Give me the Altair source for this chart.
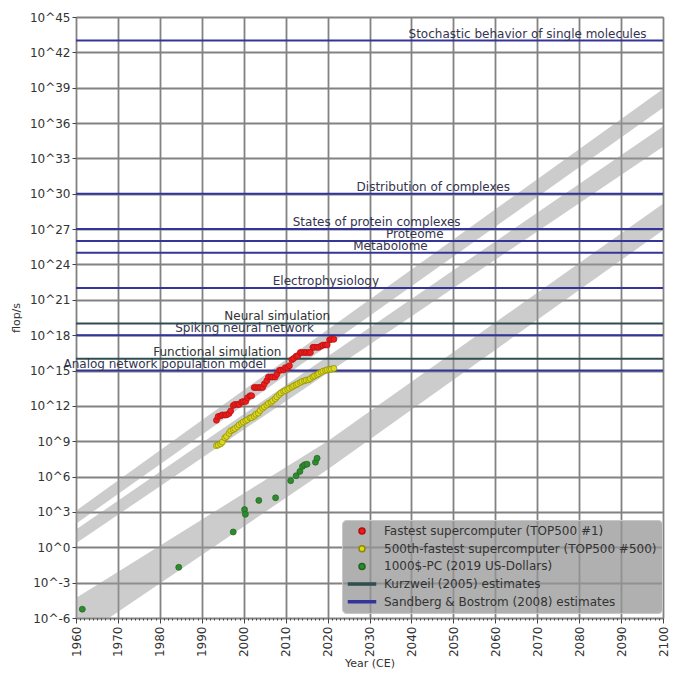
import altair as alt
import pandas as pd

# ---------------- data ----------------
# TOP500 list dates (June / November lists)
top_years = [1993.5, 1993.9, 1994.5, 1994.9, 1995.5, 1995.9, 1996.5, 1996.9, 1997.5, 1997.9,
             1998.5, 1998.9, 1999.5, 1999.9, 2000.5, 2000.9, 2001.5, 2001.9, 2002.5, 2002.9,
             2003.5, 2003.9, 2004.5, 2004.9, 2005.5, 2005.9, 2006.5, 2006.9, 2007.5, 2007.9,
             2008.5, 2008.9, 2009.5, 2009.9, 2010.5, 2010.9, 2011.5, 2011.9, 2012.5, 2012.9,
             2013.5, 2013.9, 2014.5, 2014.9, 2015.5, 2015.9, 2016.5, 2016.9, 2017.5, 2017.9,
             2018.5, 2018.9, 2019.5, 2019.9, 2020.5, 2020.9, 2021.5]
# fastest supercomputer (TOP500 #1), flop/s
top1_flops = [5.97e10, 1.24e11, 1.434e11, 1.70e11, 1.70e11, 1.70e11, 2.204e11, 3.682e11, 1.068e12, 1.338e12,
              1.338e12, 1.338e12, 2.121e12, 2.379e12, 2.379e12, 4.938e12, 7.226e12, 7.226e12, 3.586e13, 3.586e13,
              3.586e13, 3.586e13, 3.586e13, 7.072e13, 1.368e14, 2.806e14, 2.806e14, 2.806e14, 2.806e14, 4.782e14,
              1.026e15, 1.105e15, 1.105e15, 1.759e15, 1.759e15, 2.566e15, 8.162e15, 1.051e16, 1.632e16, 1.759e16,
              3.386e16, 3.386e16, 3.386e16, 3.386e16, 3.386e16, 3.386e16, 9.301e16, 9.301e16, 9.301e16, 9.301e16,
              1.223e17, 1.435e17, 1.486e17, 1.486e17, 4.155e17, 4.42e17, 4.42e17]
# 500th-fastest supercomputer (TOP500 #500), flop/s
top500_flops = [4.22e8, 4.72e8, 6.0e8, 8.5e8, 1.96e9, 2.58e9, 4.6e9, 7.7e9, 9.5e9, 1.21e10,
                1.71e10, 2.47e10, 3.31e10, 4.38e10, 5.51e10, 6.78e10, 9.43e10, 1.02e11, 1.34e11, 1.96e11,
                2.45e11, 4.03e11, 6.24e11, 8.51e11, 1.166e12, 1.646e12, 2.026e12, 2.737e12, 4.005e12, 5.929e12,
                9.0e12, 1.264e13, 1.709e13, 2.005e13, 2.467e13, 3.112e13, 3.91e13, 5.09e13, 6.08e13, 7.65e13,
                9.66e13, 1.178e14, 1.337e14, 1.534e14, 1.64e14, 2.064e14, 2.861e14, 3.493e14, 4.322e14, 5.487e14,
                7.156e14, 8.748e14, 1.022e15, 1.142e15, 1.228e15, 1.32e15, 1.52e15]
# 1000$-PC (2019 US-Dollars): year and log10(flop/s)
pc_years = [1961.5, 1984.5, 1997.5, 2000.2, 2000.4, 2003.6, 2007.6, 2011.2, 2012.5, 2013.4, 2014.0, 2014.5, 2015.1, 2017.1, 2017.5]
pc_log10 = [-5.25, -1.7, 1.3, 3.2, 2.8, 3.98, 4.2, 5.65, 6.07, 6.44, 6.86, 7.0, 7.05, 7.22, 7.56]

# grey trend bands: sample years, upper and lower edge (log10 flop/s)
band_ids = ["A", "A", "A", "B", "B", "B", "C", "C", "C"]
band_years = [1960, 2020, 2100, 1960, 2020, 2100, 1960, 2020, 2100]
band_top = [3.1, 18.45, 38.9, 1.5, 16.2, 35.7, -4.3, 9.0, 29.15]
band_bottom = [2.0, 17.1, 37.3, 0.35, 14.8, 34.0, -7.9, 6.6, 26.9]

# brain emulation estimates (horizontal lines)
est_labels = ["Stochastic behavior of single molecules", "Distribution of complexes",
              "States of protein complexes", "Proteome", "Metabolome", "Electrophysiology",
              "Neural simulation", "Spiking neural network", "Functional simulation",
              "Analog network population model"]
est_exponent = [43, 30, 27, 26, 25, 22, 19, 18, 16, 15]
est_source = ["S", "S", "S", "S", "S", "S", "K", "S", "K", "S"]
est_label_year = [2067.7, 2045.2, 2031.7, 2040.8, 2035.0, 2019.6, 2008.0, 2000.2, 1993.7, 1981.2]

legend_names = ["Fastest supercomputer (TOP500 #1)", "500th-fastest supercomputer (TOP500 #500)",
                "1000$-PC (2019 US-Dollars)", "Kurzweil (2005) estimates",
                "Sandberg & Bostrom (2008) estimates"]
legend_colors = ["#ee1c1c", "#dcd820", "#2e8b2e", "#2f4f4f", "#34349a"]
edge_colors = ["#b01010", "#8a8a00", "#1e661e", "#2f4f4f", "#34349a"]
line_path = "M-4.5,-0.33H4.5V0.33H-4.5Z"
legend_shapes = ["circle", "circle", "circle", line_path, line_path]
source_color = {"K": legend_colors[3], "S": legend_colors[4]}
source_text = {"K": "#333333", "S": "#34344e"}

y_ticks = [10.0 ** e for e in range(-6, 46, 3)]
x_ticks = list(range(1960, 2101))

# ---------------- tables ----------------
pts = pd.DataFrame({
    "year": top_years + top_years + pc_years,
    "flops": top1_flops + top500_flops + [10.0 ** v for v in pc_log10],
    "series": [legend_names[0]] * len(top_years) + [legend_names[1]] * len(top_years)
              + [legend_names[2]] * len(pc_years),
})
bands = pd.DataFrame({
    "band": band_ids, "year": band_years,
    "top": [10.0 ** v for v in band_top], "bottom": [10.0 ** v for v in band_bottom],
})
est = pd.DataFrame({
    "label": est_labels,
    "value": [10.0 ** e for e in est_exponent],
    "col": [source_color[s] for s in est_source],
    "tcol": [source_text[s] for s in est_source],
    "lx": est_label_year,
})

FONT = "DejaVu Sans"
GRID = "#828282"
decade = "datum.value % 10 == 0"

x_scale = alt.Scale(domain=[1960, 2100], nice=False, zero=False)
y_scale = alt.Scale(type="log", domain=[1e-6, 1e45], nice=False)

x_axis = alt.Axis(values=x_ticks, labelExpr=f"{decade} ? '' + datum.value : ''",
                  labelAngle=270, labelAlign="right", labelBaseline="middle",
                  labelFont=FONT, labelFontSize=12, labelColor="#333", labelOverlap=False,
                  labelPadding=3, labelBound=False, labelFlush=False,
                  tickSize={"condition": {"test": decade, "value": 5}, "value": 2},
                  tickColor="#444",
                  gridOpacity={"condition": {"test": decade, "value": 1}, "value": 0},
                  gridColor=GRID, gridWidth=1.8, domain=False,
                  title="Year (CE)", titleFont=FONT, titleFontSize=11,
                  titleFontWeight="normal", titleColor="#333", titlePadding=1)
y_axis = alt.Axis(values=y_ticks, labelExpr="'10^' + round(log(datum.value) / LN10)",
                  labelFont=FONT, labelFontSize=12, labelColor="#333", labelPadding=2,
                  labelOverlap=False, labelFlush=False, tickSize=4, tickColor="#444",
                  gridColor=GRID, gridWidth=1.8, domain=False,
                  title="flop/s", titleFont=FONT, titleFontSize=11,
                  titleFontWeight="normal", titleColor="#333", titlePadding=8)

def X(field):
    return alt.X(field, type="quantitative", scale=x_scale, axis=x_axis)

def Y(field, stack=False):
    if stack:
        return alt.Y(field, type="quantitative", scale=y_scale, axis=y_axis, stack=None)
    return alt.Y(field, type="quantitative", scale=y_scale, axis=y_axis)

band_layers = [
    alt.Chart(bands).transform_filter(alt.datum.band == b)
    .mark_area(color="#9a9a9a", opacity=0.5, clip=True)
    .encode(x=X("year"), y=Y("top", stack=True), y2="bottom")
    for b in ["A", "B", "C"]
]

rule_layer = alt.Chart(est).mark_rule(strokeWidth=2).encode(
    y=Y("value"), color=alt.Color("col:N", scale=None))

text_layer = alt.Chart(est).mark_text(align="center", baseline="alphabetic", dy=-3,
                                      font=FONT, fontSize=12).encode(
    x=X("lx"), y=Y("value"), text="label:N", color=alt.Color("tcol:N", scale=None))

leg = alt.Legend(title=None, orient="none", legendX=266, legendY=503,
                 fillColor="rgba(150,150,150,0.75)", strokeColor="#c8c8c8", cornerRadius=4,
                 padding=5, labelFont=FONT, labelFontSize=12, labelColor="#333",
                 rowPadding=5.7, symbolSize=36, symbolOffset=9, labelOffset=16, labelLimit=400)

point_layer = alt.Chart(pts).mark_point(filled=True, size=36, opacity=1, strokeWidth=0.7).encode(
    x=X("year"), y=Y("flops"),
    color=alt.Color("series:N", scale=alt.Scale(domain=legend_names, range=legend_colors), legend=leg),
    shape=alt.Shape("series:N", scale=alt.Scale(domain=legend_names, range=legend_shapes), legend=leg),
    stroke=alt.Stroke("series:N", scale=alt.Scale(domain=legend_names, range=edge_colors), legend=None),
)

chart = alt.layer(*band_layers, rule_layer, point_layer, text_layer).properties(
    width=587, height=601,
    autosize=alt.AutoSizeParams(type="none"),
    padding={"left": 68, "top": 9, "right": 8, "bottom": 53},
    background="white",
).configure_view(stroke=GRID, strokeWidth=1)

chart.save("out.html", embed_options={"renderer": "svg", "actions": False})
